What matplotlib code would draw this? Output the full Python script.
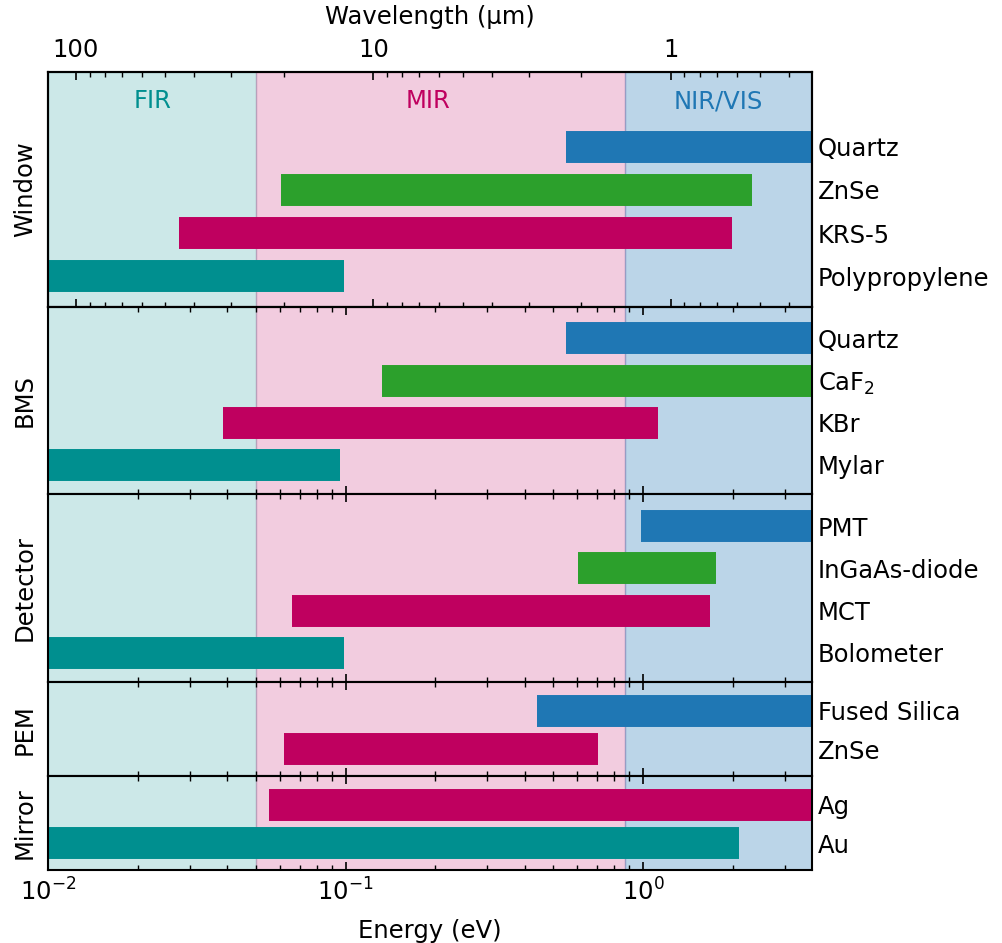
import matplotlib
matplotlib.use("Agg")
import matplotlib.pyplot as plt
from matplotlib.ticker import NullFormatter, FixedLocator, FixedFormatter, LogLocator

plt.rcParams['font.family'] = ['DejaVu Sans']
FS = 17.5

TEAL = '#008F8F'
MAG = '#BF005F'
GREEN = '#2CA02C'
BLUE = '#1F77B4'
row_colors = [TEAL, MAG, GREEN, BLUE]

# Data (energy ranges in eV), listed bottom to top within each group
groups = ['Window', 'BMS', 'Detector', 'PEM', 'Mirror']

window_names = ['Polypropylene', 'KRS-5', 'ZnSe', 'Quartz']
window_lo = [0.01, 0.0275, 0.0607, 0.55]
window_hi = [0.099, 1.99, 2.32, 3.7]

bms_names = ['Mylar', 'KBr', 'CaF$_2$', 'Quartz']
bms_lo = [0.01, 0.0387, 0.133, 0.55]
bms_hi = [0.096, 1.12, 3.7, 3.7]

det_names = ['Bolometer', 'MCT', 'InGaAs-diode', 'PMT']
det_lo = [0.01, 0.066, 0.605, 0.985]
det_hi = [0.099, 1.68, 1.76, 3.7]

pem_names = ['ZnSe', 'Fused Silica']
pem_lo = [0.062, 0.44]
pem_hi = [0.707, 3.7]
pem_colors = [MAG, BLUE]

mir_names = ['Au', 'Ag']
mir_lo = [0.01, 0.0553]
mir_hi = [2.10, 3.7]
mir_colors = [TEAL, MAG]

# spectral regions
region_names = ['FIR', 'MIR', 'NIR/VIS']
region_lo = [0.01, 0.05, 0.87]
region_hi = [0.05, 0.87, 3.7]
region_colors = [TEAL, MAG, BLUE]
region_alpha = [0.2, 0.2, 0.3]
region_label_x = [0.0224, 0.19, 1.79]

wl_ticks = [100, 10, 1]
wl_labels = ['100', '10', '1']
HC = 1.2398  # eV*um

EMIN, EMAX = 0.01, 3.7

panel_data = [
    (window_names, window_lo, window_hi, row_colors),
    (bms_names, bms_lo, bms_hi, row_colors),
    (det_names, det_lo, det_hi, row_colors),
    (pem_names, pem_lo, pem_hi, pem_colors),
    (mir_names, mir_lo, mir_hi, mir_colors),
]

fig, axes = plt.subplots(5, 1, figsize=(10.03, 9.43), dpi=100, sharex=True,
                         gridspec_kw=dict(height_ratios=[5, 4, 4, 2, 2]))
fig.subplots_adjust(left=0.048, right=0.8096, top=0.9236, bottom=0.0774, hspace=0)

for i, (ax, grp, (names, lo, hi, cols)) in enumerate(zip(axes, groups, panel_data)):
    for rl, rh, rc, ra in zip(region_lo, region_hi, region_colors, region_alpha):
        ax.axvspan(rl, rh, color=rc, alpha=ra, lw=1, zorder=0)
    ys = list(range(len(names)))
    for y, l, h, c in zip(ys, lo, hi, cols):
        ax.hlines(y, l, h, colors=c, lw=23, capstyle='butt', zorder=2)
    ax.set_xscale('log')
    ax.set_xlim(EMIN, EMAX)
    top = 4.72 if i == 0 else len(names) - 0.25
    ax.set_ylim(-0.7, top)
    ax.set_yticks(ys)
    ax.set_yticklabels(names, fontsize=FS)
    ax.yaxis.tick_right()
    ax.tick_params(axis='y', which='both', length=0, pad=4)
    ax.set_ylabel(grp, fontsize=FS, labelpad=8)
    ax.yaxis.set_label_position('left')
    for sp in ax.spines.values():
        sp.set_linewidth(1.5)
    if i == 0:
        ax.tick_params(axis='x', which='both', bottom=False, top=False,
                       labelbottom=False, labeltop=False)
        for xt, name, c in zip(region_label_x, region_names, region_colors):
            ax.text(xt, 4.05, name, color=c, fontsize=FS, ha='center', va='center')
    else:
        ax.tick_params(axis='x', which='both', direction='in', top=True, bottom=True,
                       labelsize=FS, pad=6)
        ax.tick_params(axis='x', which='major', length=6, width=1.2)
        ax.tick_params(axis='x', which='minor', length=3.5, width=1.0)
        if i < 4:
            ax.tick_params(axis='x', labelbottom=False)

axes[-1].set_xlabel('Energy (eV)', fontsize=FS, labelpad=10)
fig.align_ylabels(axes)

# Wavelength axis on the top panel
tw = axes[0].twiny()
tw.set_xscale('log')
tw.set_xlim(HC / EMIN, HC / EMAX)
tw.xaxis.set_major_locator(FixedLocator(wl_ticks))
tw.xaxis.set_major_formatter(FixedFormatter(wl_labels))
tw.xaxis.set_minor_locator(LogLocator(base=10, subs=range(2, 10)))
tw.xaxis.set_minor_formatter(NullFormatter())
tw.tick_params(axis='x', which='both', direction='in', top=True, bottom=True,
               labeltop=True, labelbottom=False, labelsize=FS, pad=7)
tw.tick_params(axis='x', which='major', length=6, width=1.2)
tw.tick_params(axis='x', which='minor', length=3.5, width=1.0)
tw.xaxis.set_label_position('top')
tw.set_xlabel('Wavelength (µm)', fontsize=FS, labelpad=10)
for sp in tw.spines.values():
    sp.set_linewidth(1.5)

fig.savefig('out.png', dpi=100)
